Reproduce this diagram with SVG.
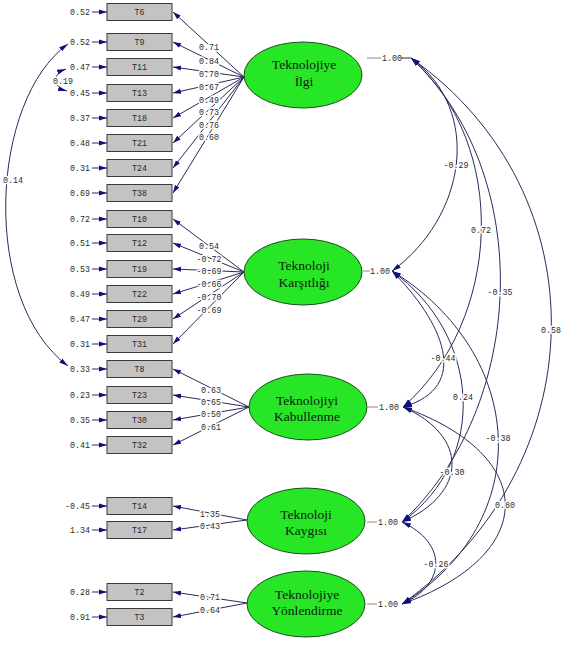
<svg xmlns="http://www.w3.org/2000/svg" width="587" height="645" viewBox="0 0 587 645">
<style>
.box{fill:#c3c3c3;stroke:#3a3a3a;stroke-width:1}
.lat{fill:#26e626;stroke:#1d4d1d;stroke-width:1}
.lt{font-family:"Liberation Serif","Times New Roman",serif;font-size:13.5px;fill:#0d200d;text-anchor:middle}
.num{font-family:"Liberation Mono","DejaVu Sans Mono",monospace;font-size:8.3px;fill:#2a2a2a}
.mid{text-anchor:middle}
.end{text-anchor:end}
.halo{paint-order:stroke;stroke:#fff;stroke-width:3px;stroke-linejoin:round}
.ln{stroke:#2a2a5a;stroke-width:1;fill:none}
.var{stroke:#888;stroke-width:1;fill:none}
.arr{marker-end:url(#ah)}
.cv{marker-start:url(#ah2);marker-end:url(#ah2)}
</style>
<defs>
<marker id="ah" markerWidth="8" markerHeight="6" refX="8" refY="3" orient="auto" markerUnits="userSpaceOnUse"><path d="M0,0.5 L8,3 L0,5.5 Z" fill="#10107a"/></marker>
<marker id="ah2" markerWidth="9" markerHeight="6" refX="9" refY="3" orient="auto-start-reverse" markerUnits="userSpaceOnUse"><path d="M0,0.5 L9,3 L0,5.5 Z" fill="#10107a"/></marker>
</defs>
<rect width="587" height="645" fill="#fff"/>

<g id="connectors">
<g class="ln arr">
<line x1="92" y1="12" x2="107" y2="12"/>
<line x1="92" y1="42" x2="107" y2="42"/>
<line x1="92" y1="67" x2="107" y2="67"/>
<line x1="92" y1="93" x2="107" y2="93"/>
<line x1="92" y1="118" x2="107" y2="118"/>
<line x1="92" y1="143" x2="107" y2="143"/>
<line x1="92" y1="168" x2="107" y2="168"/>
<line x1="92" y1="193" x2="107" y2="193"/>
<line x1="92" y1="219" x2="107" y2="219"/>
<line x1="92" y1="243" x2="107" y2="243"/>
<line x1="92" y1="269" x2="107" y2="269"/>
<line x1="92" y1="294" x2="107" y2="294"/>
<line x1="92" y1="319" x2="107" y2="319"/>
<line x1="92" y1="344" x2="107" y2="344"/>
<line x1="92" y1="369" x2="107" y2="369"/>
<line x1="92" y1="395" x2="107" y2="395"/>
<line x1="92" y1="420" x2="107" y2="420"/>
<line x1="92" y1="445" x2="107" y2="445"/>
<line x1="92" y1="506" x2="107" y2="506"/>
<line x1="92" y1="530" x2="107" y2="530"/>
<line x1="92" y1="592" x2="107" y2="592"/>
<line x1="92" y1="617" x2="107" y2="617"/>
</g>
<g class="ln arr">
<line x1="244" y1="77" x2="173" y2="12"/>
<line x1="244" y1="77" x2="173" y2="42"/>
<line x1="244" y1="77" x2="173" y2="67"/>
<line x1="244" y1="77" x2="173" y2="93"/>
<line x1="244" y1="77" x2="173" y2="118"/>
<line x1="244" y1="77" x2="173" y2="143"/>
<line x1="244" y1="77" x2="173" y2="168"/>
<line x1="244" y1="77" x2="173" y2="193"/>
<line x1="244" y1="272" x2="173" y2="219"/>
<line x1="244" y1="272" x2="173" y2="243"/>
<line x1="244" y1="272" x2="173" y2="269"/>
<line x1="244" y1="272" x2="173" y2="294"/>
<line x1="244" y1="272" x2="173" y2="319"/>
<line x1="244" y1="272" x2="173" y2="344"/>
<line x1="249" y1="407" x2="173" y2="369"/>
<line x1="249" y1="407" x2="173" y2="395"/>
<line x1="249" y1="407" x2="173" y2="420"/>
<line x1="249" y1="407" x2="173" y2="445"/>
<line x1="247" y1="520" x2="173" y2="506"/>
<line x1="247" y1="520" x2="173" y2="530"/>
<line x1="247" y1="603" x2="173" y2="592"/>
<line x1="247" y1="603" x2="173" y2="617"/>
</g>
<path class="ln cv" d="M68,44 C-10,100 -20,300 68,366"/>
<path class="ln cv" d="M66,69 C52,74 52,87 67,91"/>
<line class="var" x1="367" y1="58" x2="381" y2="58"/>
<line class="ln" x1="401" y1="58" x2="411" y2="58"/>
<line class="var" x1="363" y1="271" x2="370" y2="271"/>
<line class="var" x1="368" y1="407" x2="378" y2="407"/>
<line class="var" x1="367" y1="522" x2="377" y2="522"/>
<line class="var" x1="367" y1="604" x2="377" y2="604"/>
<g class="ln cv">
<path d="M411,58 C484,111 465,218 392,271"/>
<path d="M411,58 C510,145 502,320 403,407"/>
<path d="M411,58 C536,174 527,406 402,522"/>
<path d="M411,58 C604,194 595,467 402,604"/>
<path d="M392,271 C442,321 473,387 403,407"/>
<path d="M392,271 C480,334 490,459 402,522"/>
<path d="M392,271 C527,354 537,521 402,604"/>
<path d="M403,407 C469,436 468,493 402,522"/>
<path d="M403,407 C540,456 539,555 402,604"/>
<path d="M402,522 C447,543 447,584 402,604"/>
</g>
<g class="num mid halo">
<text x="209" y="50">0.71</text>
<text x="209" y="64">0.84</text>
<text x="209" y="77">0.70</text>
<text x="209" y="90">0.67</text>
<text x="209" y="103">0.49</text>
<text x="209" y="115">0.73</text>
<text x="209" y="128">0.76</text>
<text x="209" y="140">0.60</text>
<text x="209" y="249">0.54</text>
<text x="209" y="262">-0.72</text>
<text x="209" y="274">-0.69</text>
<text x="209" y="287">-0.66</text>
<text x="209" y="300">-0.70</text>
<text x="209" y="313">-0.69</text>
<text x="211" y="393">0.63</text>
<text x="211" y="405">0.65</text>
<text x="211" y="417">0.50</text>
<text x="211" y="430">0.61</text>
<text x="210" y="517">1.35</text>
<text x="210" y="529">0.43</text>
<text x="210" y="600">0.71</text>
<text x="210" y="613">0.64</text>
<text x="13" y="183">0.14</text>
<text x="63" y="84">0.19</text>
<text x="456" y="168">-0.29</text>
<text x="481" y="233">0.72</text>
<text x="500" y="295">-0.35</text>
<text x="551" y="333">0.58</text>
<text x="443" y="361">-0.44</text>
<text x="463" y="400">0.24</text>
<text x="498" y="441">-0.38</text>
<text x="452" y="475">-0.30</text>
<text x="505" y="508">0.80</text>
<text x="436" y="567">-0.26</text>
</g>
<g class="num">
<text x="382" y="61">1.00</text>
<text x="370" y="274">1.00</text>
<text x="379" y="410">1.00</text>
<text x="378" y="525">1.00</text>
<text x="378" y="607">1.00</text>
</g>
<g class="num end">
<text x="90" y="15">0.52</text>
<text x="90" y="45">0.52</text>
<text x="90" y="70">0.47</text>
<text x="90" y="96">0.45</text>
<text x="90" y="121">0.37</text>
<text x="90" y="146">0.48</text>
<text x="90" y="171">0.31</text>
<text x="90" y="196">0.69</text>
<text x="90" y="222">0.72</text>
<text x="90" y="246">0.51</text>
<text x="90" y="272">0.53</text>
<text x="90" y="297">0.49</text>
<text x="90" y="322">0.47</text>
<text x="90" y="347">0.31</text>
<text x="90" y="372">0.33</text>
<text x="90" y="398">0.23</text>
<text x="90" y="423">0.35</text>
<text x="90" y="448">0.41</text>
<text x="90" y="509">-0.45</text>
<text x="90" y="533">1.34</text>
<text x="90" y="595">0.28</text>
<text x="90" y="620">0.91</text>
</g>
</g>

<g id="T6"><rect class="box" x="107" y="3.5" width="65" height="17"/><text class="num mid" x="139.5" y="15">T6</text></g>
<g id="T9"><rect class="box" x="107" y="33.5" width="65" height="17"/><text class="num mid" x="139.5" y="45">T9</text></g>
<g id="T11"><rect class="box" x="107" y="58.5" width="65" height="17"/><text class="num mid" x="139.5" y="70">T11</text></g>
<g id="T13"><rect class="box" x="107" y="84.5" width="65" height="17"/><text class="num mid" x="139.5" y="96">T13</text></g>
<g id="T18"><rect class="box" x="107" y="109.5" width="65" height="17"/><text class="num mid" x="139.5" y="121">T18</text></g>
<g id="T21"><rect class="box" x="107" y="134.5" width="65" height="17"/><text class="num mid" x="139.5" y="146">T21</text></g>
<g id="T24"><rect class="box" x="107" y="159.5" width="65" height="17"/><text class="num mid" x="139.5" y="171">T24</text></g>
<g id="T38"><rect class="box" x="107" y="184.5" width="65" height="17"/><text class="num mid" x="139.5" y="196">T38</text></g>
<g id="T10"><rect class="box" x="107" y="210.5" width="65" height="17"/><text class="num mid" x="139.5" y="222">T10</text></g>
<g id="T12"><rect class="box" x="107" y="234.5" width="65" height="17"/><text class="num mid" x="139.5" y="246">T12</text></g>
<g id="T19"><rect class="box" x="107" y="260.5" width="65" height="17"/><text class="num mid" x="139.5" y="272">T19</text></g>
<g id="T22"><rect class="box" x="107" y="285.5" width="65" height="17"/><text class="num mid" x="139.5" y="297">T22</text></g>
<g id="T29"><rect class="box" x="107" y="310.5" width="65" height="17"/><text class="num mid" x="139.5" y="322">T29</text></g>
<g id="T31"><rect class="box" x="107" y="335.5" width="65" height="17"/><text class="num mid" x="139.5" y="347">T31</text></g>
<g id="T8"><rect class="box" x="107" y="360.5" width="65" height="17"/><text class="num mid" x="139.5" y="372">T8</text></g>
<g id="T23"><rect class="box" x="107" y="386.5" width="65" height="17"/><text class="num mid" x="139.5" y="398">T23</text></g>
<g id="T30"><rect class="box" x="107" y="411.5" width="65" height="17"/><text class="num mid" x="139.5" y="423">T30</text></g>
<g id="T32"><rect class="box" x="107" y="436.5" width="65" height="17"/><text class="num mid" x="139.5" y="448">T32</text></g>
<g id="T14"><rect class="box" x="107" y="497.5" width="65" height="17"/><text class="num mid" x="139.5" y="509">T14</text></g>
<g id="T17"><rect class="box" x="107" y="521.5" width="65" height="17"/><text class="num mid" x="139.5" y="533">T17</text></g>
<g id="T2"><rect class="box" x="107" y="583.5" width="65" height="17"/><text class="num mid" x="139.5" y="595">T2</text></g>
<g id="T3"><rect class="box" x="107" y="608.5" width="65" height="17"/><text class="num mid" x="139.5" y="620">T3</text></g>

<g id="L1"><ellipse class="lat" cx="303" cy="75" rx="59" ry="33"/><text class="lt" x="304" y="69">Teknolojiye</text><text class="lt" x="304" y="86">İlgi</text></g>
<g id="L2"><ellipse class="lat" cx="303" cy="272" rx="59" ry="33"/><text class="lt" x="304" y="270">Teknoloji</text><text class="lt" x="304" y="287">Karşıtlığı</text></g>
<g id="L3"><ellipse class="lat" cx="308" cy="407" rx="59" ry="33"/><text class="lt" x="307" y="405">Teknolojiyi</text><text class="lt" x="307" y="421">Kabullenme</text></g>
<g id="L4"><ellipse class="lat" cx="306" cy="521" rx="59" ry="33"/><text class="lt" x="306" y="519">Teknoloji</text><text class="lt" x="306" y="535">Kaygısı</text></g>
<g id="L5"><ellipse class="lat" cx="306" cy="604" rx="59" ry="33"/><text class="lt" x="307" y="599">Teknolojiye</text><text class="lt" x="307" y="615">Yönlendirme</text></g>
</svg>
